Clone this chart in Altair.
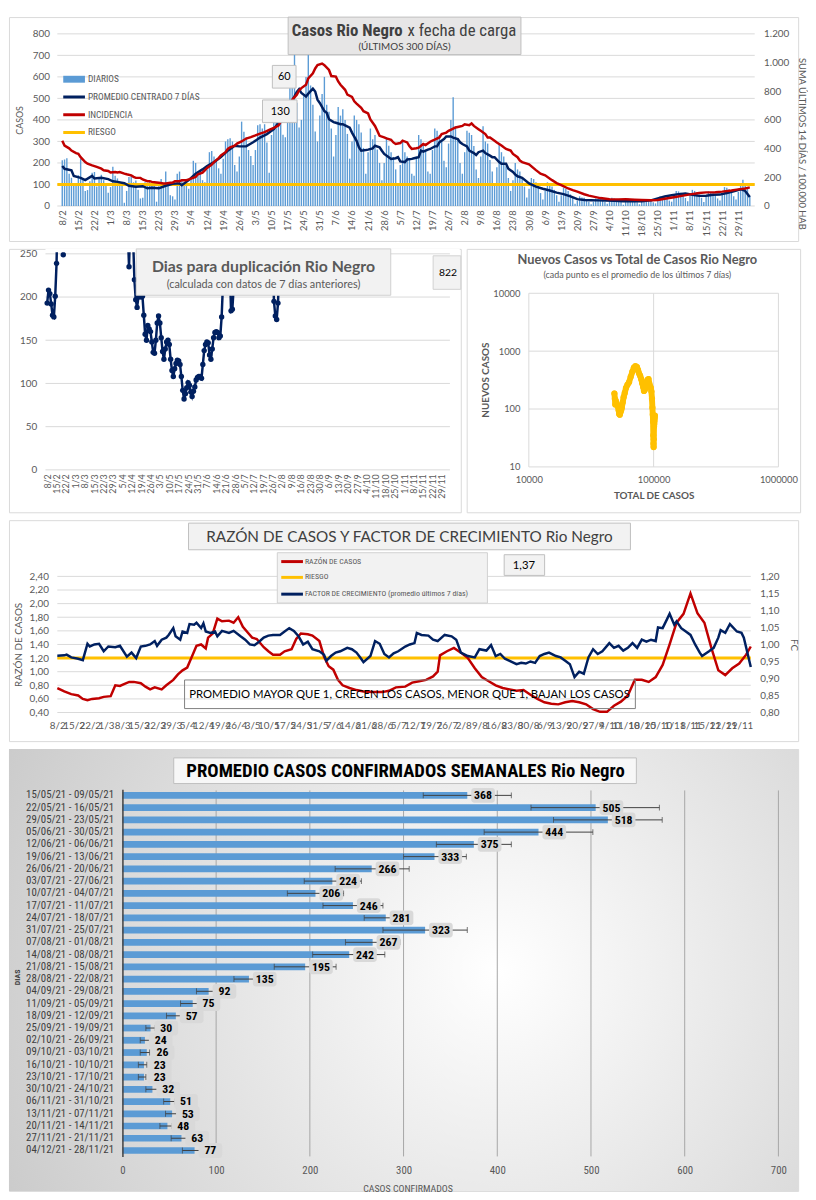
import json
import pandas as pd
import altair as alt

FONT = "Lato, 'Open Sans', sans-serif"
NARROW = "'Liberation Sans Narrow', 'Arial Narrow', 'Roboto Condensed', 'DejaVu Sans Condensed', sans-serif"
GRAY = "#595959"
GRID = "#D9D9D9"
NAVY = "#002060"
RED = "#C00000"
YELLOW = "#FFC000"
BLUE = "#5B9BD5"

# ---------------- data ----------------
tick_labels = ["8/2", "15/2", "22/2", "1/3", "8/3", "15/3", "22/3", "29/3", "5/4", "12/4", "19/4", "26/4",
               "3/5", "10/5", "17/5", "24/5", "31/5", "7/6", "14/6", "21/6", "28/6", "5/7", "12/7", "19/7",
               "26/7", "2/8", "9/8", "16/8", "23/8", "30/8", "6/9", "13/9", "20/9", "27/9", "4/10", "11/10",
               "18/10", "25/10", "1/11", "8/11", "15/11", "22/11", "29/11"]
tick_days = [7 * i for i in range(len(tick_labels))]

# daily cases, 8/2 .. 4/12 (one value per day)
daily = [
    212, 216, 222, 150, 131, 97,
    105, 143, 219, 128, 70, 74, 115,
    155, 158, 90, 130, 145, 120, 100,
    62, 88, 182, 140, 128, 110, 95,
    15, 70, 135, 140, 110, 118, 75,
    35, 38, 110, 95, 120, 108, 96,
    20, 105, 125, 90, 160, 98, 50,
    45, 30, 150, 160, 120, 100, 95,
    80, 130, 210, 200, 160, 150, 120,
    110, 170, 250, 255, 230, 210, 175,
    150, 220, 300, 310, 315, 300, 190,
    160, 230, 392, 345, 320, 260, 232,
    190, 260, 375, 380, 360, 380, 295,
    155, 330, 450, 430, 460, 420, 331,
    320, 420, 550, 640, 760, 480, 365,
    400, 510, 600, 740, 560, 470, 346,
    300, 420, 520, 600, 470, 438, 360,
    230, 330, 460, 420, 450, 400, 335,
    220, 300, 420, 400, 380, 341, 270,
    150, 250, 360, 310, 330, 262, 200,
    120, 200, 320, 280, 250, 228, 170,
    100, 190, 300, 250, 230, 222, 150,
    140, 230, 330, 310, 290, 262, 160,
    150, 260, 360, 350, 330, 307, 210,
    180, 290, 400, 505, 370, 316, 200,
    150, 250, 350, 340, 330, 279, 170,
    130, 230, 370, 300, 290, 214, 160,
    100, 180, 290, 250, 230, 185, 130,
    70, 120, 200, 170, 160, 135, 90,
    40, 80, 130, 125, 110, 99, 60,
    30, 70, 110, 100, 90, 75, 50,
    20, 50, 85, 80, 70, 54, 40,
    10, 25, 45, 40, 38, 32, 20,
    8, 20, 35, 32, 30, 25, 18,
    10, 22, 38, 35, 32, 27, 18,
    6, 18, 35, 30, 30, 25, 17,
    8, 20, 32, 30, 30, 24, 17,
    12, 25, 45, 42, 40, 35, 25,
    20, 45, 70, 68, 62, 55, 37,
    22, 48, 75, 70, 65, 53, 38,
    18, 42, 68, 65, 58, 50, 35,
    25, 55, 88, 85, 78, 65, 45,
    30, 65, 95, 122, 100, 82, 45,
]

# (day, value) promedio centrado 7 dias
avg7 = [(0, 186), (1, 173), (4, 166), (5, 140), (8, 131), (10, 120), (13, 140), (14, 128), (17, 131), (20, 125),
        (22, 115), (24, 112), (27, 106), (29, 94), (32, 89), (35, 92), (37, 82), (39, 85), (42, 82), (45, 94),
        (48, 103), (51, 105), (52, 97), (55, 120), (58, 150), (61, 170), (63, 186), (66, 204), (69, 227), (72, 257),
        (75, 280), (77, 277), (80, 277), (83, 296), (86, 318), (89, 334), (92, 357), (94, 387), (97, 425), (99, 470),
        (101, 510), (102, 530), (103, 543), (104, 525), (106, 509), (107, 522), (109, 545), (110, 532), (111, 494),
        (112, 479), (114, 441), (115, 433), (116, 403), (118, 390), (119, 387), (121, 380), (122, 380), (123, 375),
        (125, 364), (126, 341), (128, 303), (129, 273), (130, 257), (132, 260), (133, 262), (135, 268), (136, 280),
        (138, 273), (139, 257), (140, 242), (142, 227), (143, 219), (145, 222), (146, 227), (147, 207), (149, 204),
        (150, 216), (152, 219), (153, 222), (155, 227), (156, 257), (157, 253), (159, 262), (160, 265), (162, 277),
        (163, 277), (164, 296), (166, 311), (167, 323), (169, 323), (170, 318), (172, 311), (173, 296), (174, 288),
        (176, 277), (177, 257), (179, 246), (180, 237), (181, 250), (183, 257), (184, 246), (186, 234), (187, 227),
        (188, 227), (190, 204), (191, 196), (193, 196), (194, 173), (196, 158), (197, 146), (198, 138), (200, 131),
        (203, 105), (206, 90), (209, 80), (212, 72), (215, 62), (218, 55), (221, 45), (224, 32), (227, 28), (230, 27),
        (233, 26), (236, 25), (240, 24), (244, 22), (248, 22), (252, 22), (256, 26), (259, 35), (262, 44), (265, 50),
        (268, 55), (271, 58), (274, 52), (277, 47), (280, 48), (283, 52), (286, 53), (289, 60), (292, 68), (295, 78),
        (297, 70), (299, 42)]

# (day, value) incidencia: suma ultimos 14 dias / 100.000 hab
incid = [(0, 455), (1, 421), (3, 402), (4, 386), (6, 368), (7, 363), (8, 340), (10, 306), (11, 295), (13, 283),
         (14, 278), (15, 272), (17, 260), (18, 249), (20, 244), (21, 233), (23, 237), (24, 233), (25, 237), (27, 226),
         (28, 221), (30, 214), (31, 203), (32, 196), (34, 196), (35, 185), (37, 173), (38, 173), (39, 168), (41, 164),
         (42, 162), (44, 157), (45, 157), (47, 162), (48, 164), (49, 173), (51, 173), (52, 180), (54, 180), (55, 185),
         (56, 191), (58, 203), (59, 221), (61, 233), (62, 249), (63, 265), (65, 288), (66, 306), (68, 334), (69, 352),
         (71, 375), (72, 398), (73, 409), (75, 421), (76, 435), (78, 450), (80, 470), (82, 480), (84, 492), (86, 505),
         (88, 515), (90, 530), (92, 545), (94, 560), (96, 610), (98, 684), (100, 740), (102, 776), (103, 805),
         (104, 822), (106, 845), (107, 890), (109, 925), (110, 959), (111, 982), (113, 993), (114, 982), (116, 948),
         (117, 906), (119, 902), (120, 868), (121, 845), (123, 810), (124, 776), (126, 760), (127, 730), (128, 714),
         (130, 684), (131, 661), (133, 645), (134, 604), (136, 558), (137, 524), (138, 489), (140, 478), (141, 471),
         (143, 462), (144, 443), (145, 432), (147, 439), (148, 455), (150, 443), (151, 416), (152, 398), (154, 403),
         (155, 407), (157, 432), (158, 425), (160, 448), (161, 455), (162, 462), (164, 478), (165, 501), (167, 512),
         (168, 524), (170, 540), (171, 547), (172, 551), (174, 558), (175, 570), (177, 563), (178, 576), (179, 558),
         (181, 535), (182, 524), (184, 501), (185, 478), (186, 478), (188, 455), (189, 443), (191, 421), (192, 409),
         (193, 398), (195, 386), (196, 363), (198, 340), (199, 317), (200, 306), (203, 290), (206, 250), (208, 225),
         (210, 214), (213, 180), (215, 160), (217, 146), (220, 122), (222, 110), (224, 100), (227, 82), (229, 72),
         (231, 65), (234, 55), (238, 47), (242, 46), (245, 47), (249, 44), (252, 42), (256, 40), (259, 42), (262, 50),
         (266, 61), (270, 72), (273, 81), (277, 90), (280, 95), (284, 96), (287, 100), (291, 108), (294, 116),
         (297, 122), (299, 130)]
riesgo_casos = 100
casos_ticks = [0, 100, 200, 300, 400, 500, 600, 700, 800]
incid_ticks = [0, 200, 400, 600, 800, 1000, 1200]
box_a, box_b = "60", "130"

# dias para duplicacion (day, value); values above 250 fall outside the chart
dupl = [(0, 193), (1, 208), (2, 204), (3, 192), (4, 179), (5, 177), (6, 201), (7, 239), (8, 320), (9, 380),
        (10, 420), (11, 300), (12, 249), (13, 300), (20, 450), (30, 700), (40, 600), (50, 450), (58, 320), (60, 280),
        (61, 235), (62, 290), (63, 300), (64, 270), (65, 220), (66, 197), (67, 188), (68, 200), (69, 205), (70, 200),
        (71, 201), (72, 179), (73, 157), (74, 150), (75, 167), (76, 163), (77, 160), (78, 148), (79, 136), (80, 135),
        (81, 150), (82, 170), (83, 178), (84, 170), (85, 153), (86, 137), (87, 128), (88, 140), (89, 148), (90, 150),
        (91, 145), (92, 128), (93, 115), (94, 108), (95, 117), (96, 123), (97, 127), (98, 126), (99, 122), (100, 108),
        (101, 92), (102, 82), (103, 88), (104, 95), (105, 101), (106, 98), (107, 90), (108, 85), (109, 91), (110, 96),
        (111, 104), (112, 107), (113, 108), (114, 108), (115, 106), (116, 122), (117, 138), (118, 145), (119, 148),
        (120, 147), (121, 133), (122, 128), (123, 140), (124, 153), (125, 159), (126, 160), (127, 159), (128, 153),
        (129, 155), (130, 177), (131, 215), (132, 280), (133, 330), (134, 300), (135, 270), (136, 240), (137, 184),
        (138, 186), (139, 212), (140, 235), (141, 260), (142, 300), (150, 400), (160, 350), (165, 290), (166, 206),
        (167, 262), (168, 245), (169, 195), (170, 178), (171, 174), (172, 193), (173, 240), (174, 290), (175, 350),
        (180, 450)]
dupl_ticks = [0, 50, 100, 150, 200, 250]
dupl_last = "822"

# nuevos casos vs total de casos (total, nuevos)
scatter = [(48500, 185), (48900, 150), (49300, 120), (49700, 140), (50200, 125), (51000, 118), (51800, 110),
           (52500, 95), (53000, 82), (53600, 80), (54200, 88), (54900, 95), (55600, 105), (56500, 130),
           (57500, 160), (58700, 190), (60000, 230), (61700, 262), (63500, 290), (65500, 360), (67500, 440),
           (69500, 520), (71500, 550), (73500, 530), (75000, 470), (76500, 410), (78000, 375), (79500, 330),
           (81000, 280), (82500, 240), (83700, 205), (85000, 215), (86500, 250), (88000, 290), (89500, 320),
           (91000, 330), (92200, 280), (93500, 250), (94800, 235), (96000, 200), (97000, 150), (97800, 105),
           (98500, 80), (99000, 60), (99400, 35), (99700, 25), (100000, 22), (100300, 30), (100700, 50),
           (101100, 55), (101500, 62), (102000, 70), (102300, 77)]

# razon de casos (day, value) and factor de crecimiento (day, value)
razon = [(0, 0.76), (3, 0.71), (6, 0.67), (9, 0.65), (11, 0.60), (13, 0.58), (15, 0.60), (18, 0.61), (20, 0.63),
         (23, 0.64), (24, 0.72), (25, 0.80), (27, 0.79), (29, 0.82), (31, 0.85), (33, 0.85), (36, 0.83), (38, 0.78),
         (40, 0.74), (42, 0.77), (45, 0.74), (47, 0.80), (50, 0.88), (52, 0.96), (54, 1.02), (56, 1.06), (58, 1.22),
         (60, 1.38), (62, 1.40), (64, 1.34), (65, 1.50), (67, 1.56), (69, 1.78), (71, 1.74), (74, 1.75), (76, 1.72),
         (78, 1.80), (80, 1.66), (82, 1.58), (84, 1.50), (86, 1.48), (89, 1.36), (91, 1.30), (93, 1.25), (96, 1.25),
         (98, 1.30), (101, 1.33), (103, 1.48), (105, 1.56), (108, 1.55), (110, 1.53), (113, 1.45), (115, 1.22),
         (117, 1.08), (119, 1.03), (121, 0.88), (123, 0.80), (126, 0.76), (129, 0.73), (132, 0.71), (136, 0.70),
         (140, 0.70), (143, 0.72), (146, 0.77), (150, 0.78), (153, 0.84), (156, 0.86), (159, 0.88), (162, 0.93),
         (164, 1.00), (165, 1.24), (168, 1.30), (171, 1.35), (174, 1.28), (177, 1.20), (180, 1.05), (183, 0.92),
         (186, 0.86), (189, 0.80), (192, 0.76), (195, 0.74), (198, 0.72), (201, 0.73), (204, 0.66), (207, 0.60),
         (210, 0.55), (213, 0.53), (216, 0.52), (219, 0.55), (222, 0.57), (225, 0.55), (228, 0.52), (231, 0.45),
         (234, 0.41), (237, 0.41), (240, 0.50), (243, 0.56), (246, 0.65), (249, 0.88), (252, 0.88), (255, 0.85),
         (258, 0.92), (261, 1.10), (264, 1.40), (267, 1.72), (270, 1.85), (273, 2.15), (276, 1.86), (279, 1.72),
         (282, 1.35), (285, 1.02), (288, 0.95), (291, 1.05), (294, 1.12), (297, 1.25), (299, 1.37)]
factor = [(0, 0.967), (3, 0.968), (4, 0.970), (6, 0.962), (9, 0.958), (11, 0.954), (13, 1.002), (14, 0.994),
          (16, 1.000), (18, 1.002), (20, 0.980), (22, 0.994), (25, 0.992), (27, 0.996), (30, 0.964), (32, 0.976),
          (34, 0.960), (36, 0.994), (38, 0.996), (40, 1.000), (42, 1.010), (43, 0.996), (45, 1.014), (47, 1.020),
          (48, 1.028), (50, 1.048), (51, 1.024), (53, 1.014), (54, 1.038), (56, 1.034), (57, 1.060), (59, 1.058),
          (60, 1.064), (62, 1.048), (63, 1.062), (64, 1.038), (66, 1.034), (68, 1.038), (69, 1.024), (71, 1.040),
          (74, 1.034), (76, 1.040), (79, 1.024), (81, 1.014), (83, 1.000), (85, 0.998), (87, 1.008), (89, 1.020),
          (91, 1.026), (93, 1.028), (96, 1.028), (98, 1.038), (100, 1.048), (102, 1.040), (104, 1.024), (106, 1.000),
          (108, 1.008), (110, 0.986), (113, 0.980), (115, 0.970), (116, 0.952), (118, 0.966), (120, 0.976),
          (122, 0.980), (125, 0.990), (127, 0.986), (129, 0.976), (131, 0.958), (132, 0.948), (135, 0.966),
          (137, 1.010), (139, 1.002), (141, 0.972), (143, 0.962), (145, 0.974), (147, 0.980), (150, 0.994),
          (152, 1.000), (154, 1.004), (155, 1.034), (157, 1.028), (160, 1.026), (162, 1.014), (164, 1.010),
          (167, 1.028), (170, 1.024), (172, 1.014), (174, 0.976), (177, 0.966), (180, 0.962), (182, 0.986),
          (185, 0.982), (187, 0.998), (189, 0.966), (191, 0.972), (193, 0.958), (195, 0.952), (198, 0.942),
          (200, 0.946), (202, 0.944), (204, 0.950), (206, 0.946), (208, 0.966), (210, 0.972), (212, 0.976),
          (215, 0.966), (217, 0.962), (219, 0.952), (221, 0.942), (223, 0.904), (225, 0.920), (227, 0.914),
          (229, 0.962), (231, 0.986), (233, 0.972), (235, 0.980), (238, 1.004), (240, 0.990), (242, 0.996),
          (244, 0.982), (246, 0.990), (248, 1.004), (250, 0.990), (252, 1.014), (254, 1.008), (256, 1.014),
          (258, 1.010), (259, 1.050), (261, 1.048), (263, 1.076), (264, 1.090), (266, 1.058), (267, 1.068),
          (269, 1.048), (271, 1.038), (273, 1.028), (275, 1.000), (277, 0.976), (278, 0.966), (281, 0.980),
          (283, 0.990), (285, 1.020), (286, 1.042), (288, 1.034), (290, 1.060), (293, 1.038), (295, 1.034),
          (296, 1.020), (299, 0.934)]
riesgo_razon = 1.2
razon_ticks = [0.4, 0.6, 0.8, 1.0, 1.2, 1.4, 1.6, 1.8, 2.0, 2.2, 2.4]
factor_ticks = [0.80, 0.85, 0.90, 0.95, 1.00, 1.05, 1.10, 1.15, 1.20]
razon_last = "1,37"

# promedio casos confirmados semanales
week_labels = ["15/05/21 - 09/05/21", "22/05/21 - 16/05/21", "29/05/21 - 23/05/21", "05/06/21 - 30/05/21",
               "12/06/21 - 06/06/21", "19/06/21 - 13/06/21", "26/06/21 - 20/06/21", "03/07/21 - 27/06/21",
               "10/07/21 - 04/07/21", "17/07/21 - 11/07/21", "24/07/21 - 18/07/21", "31/07/21 - 25/07/21",
               "07/08/21 - 01/08/21", "14/08/21 - 08/08/21", "21/08/21 - 15/08/21", "28/08/21 - 22/08/21",
               "04/09/21 - 29/08/21", "11/09/21 - 05/09/21", "18/09/21 - 12/09/21", "25/09/21 - 19/09/21",
               "02/10/21 - 26/09/21", "09/10/21 - 03/10/21", "16/10/21 - 10/10/21", "23/10/21 - 17/10/21",
               "30/10/21 - 24/10/21", "06/11/21 - 31/10/21", "13/11/21 - 07/11/21", "20/11/21 - 14/11/21",
               "27/11/21 - 21/11/21", "04/12/21 - 28/11/21"]
week_avg = [368, 505, 518, 444, 375, 333, 266, 224, 206, 246, 281, 323, 267, 242, 195, 135, 92, 75, 57, 30,
            24, 26, 23, 23, 32, 51, 53, 48, 63, 77]
week_lo = [321, 436, 460, 386, 335, 300, 227, 194, 176, 214, 258, 278, 238, 203, 162, 119, 79, 62, 47, 25,
           19, 19, 17, 17, 25, 44, 46, 40, 52, 64]
week_hi = [415, 573, 576, 502, 415, 367, 306, 255, 236, 278, 300, 368, 296, 280, 228, 150, 105, 85, 66, 35,
           29, 29, 26, 25, 38, 56, 60, 53, 70, 84]
week_ticks = [0, 100, 200, 300, 400, 500, 600, 700]

# ---------------- helpers ----------------
ONE = pd.DataFrame({"k": [0]})


def ax(**kw):
    base = dict(ticks=False, tickSize=0, domain=False, grid=False, labelColor=GRAY, labelFont=FONT,
                labelFontSize=10, titleColor=GRAY, titleFont=FONT, titleFontWeight="normal",
                labelOverlap=False, labelFlush=False)
    base.update(kw)
    return alt.Axis(**base)


def rect(x1, y1, x2, y2, fill="#F2F2F2", stroke="#BFBFBF", sw=1, r=0, fo=1.0):
    return alt.Chart(ONE).mark_rect(fill=fill, stroke=stroke, strokeWidth=sw, cornerRadius=r,
                                    fillOpacity=fo).encode(
        x=alt.value(x1), x2=alt.value(x2), y=alt.value(y1), y2=alt.value(y2))


def text(x, y, s, size=10, color=GRAY, weight="normal", align="center", font=FONT, angle=0):
    return alt.Chart(pd.DataFrame({"t": [s]})).mark_text(
        align=align, baseline="middle", fontSize=size, fontWeight=weight, color=color, font=font,
        angle=angle).encode(x=alt.value(x), y=alt.value(y), text="t:N")


def swatch(x1, x2, y, color, w):
    return alt.Chart(ONE).mark_rule(color=color, strokeWidth=w).encode(
        x=alt.value(x1), x2=alt.value(x2), y=alt.value(y))


def lbl_expr(labels):
    return json.dumps(labels) + "[round(datum.value/7)]"


COMMA2 = "replace(format(datum.value, '.2f'), '.', ',')"

# ---------------- panel 1: casos x fecha de carga ----------------
W1, H1 = 800, 227
X1 = alt.Scale(domain=[0, 299], range=[49, 756])
Y1 = alt.Scale(domain=[0, 800], range=[191.5, 17])
Y1R = alt.Scale(domain=[0, 1200], range=[191.5, 17])
ax1x = ax(values=tick_days, labelExpr=lbl_expr(tick_labels), labelAngle=-90, labelPadding=4,
          offset=191.5 - H1, title=None, labelFontSize=9.5)
ax1y = ax(values=casos_ticks, offset=-49, labelPadding=8, title="CASOS", titleFontSize=9, titlePadding=8)
ax1r = ax(values=incid_ticks, orient="right", offset=-44, labelPadding=9,
          labelExpr="replace(format(datum.value, ',d'), ',', '.')",
          title="SUMA  ÚLTIMOS 14 DÍAS / 100.000 HAB", titleFontSize=9.5, titleAngle=90, titlePadding=8,
          titleY=128)
xe1 = alt.X("d:Q", scale=X1, axis=ax1x)

df_daily = pd.DataFrame({"d": list(range(len(daily))), "v": daily})
df_avg = pd.DataFrame(avg7, columns=["d", "v"])
df_inc = pd.DataFrame(incid, columns=["d", "v"])

grid1 = alt.Chart(pd.DataFrame({"g": casos_ticks})).mark_rule(color=GRID).encode(
    y=alt.Y("g:Q", scale=Y1, axis=ax1y), x=alt.value(49), x2=alt.value(756))
bars1 = alt.Chart(df_daily).mark_bar(width=1.4, color=BLUE, orient="vertical").encode(
    x=xe1, y=alt.Y("v:Q", scale=Y1, axis=ax1y))
risk1 = alt.Chart(pd.DataFrame({"r": [riesgo_casos]})).mark_rule(color=YELLOW, strokeWidth=3).encode(
    y=alt.Y("r:Q", scale=Y1, axis=ax1y), x=alt.value(49), x2=alt.value(756))
avg1 = alt.Chart(df_avg).mark_line(color=NAVY, strokeWidth=2.5).encode(
    x=xe1, y=alt.Y("v:Q", scale=Y1, axis=ax1y))
left1 = alt.layer(grid1, bars1, risk1, avg1)
inc1 = alt.Chart(df_inc).mark_line(color=RED, strokeWidth=2.5).encode(
    x=xe1, y=alt.Y("v:Q", scale=Y1R, axis=ax1r))

ann1 = [
    rect(283, 0, 519, 38, fill="#E7E6E6", stroke="#BFBFBF"),
    text(399, 14, "Casos Rio Negro", size=17, color="#404040", weight="bold", align="right", font=NARROW),
    text(404, 14, "x fecha de carga", size=17, color="#404040", align="left", font=NARROW),
    text(401, 30, "(ÚLTIMOS 300 DÍAS)", size=10, color="#404040"),
    rect(267, 49, 291, 72, fill="#F2F2F2", stroke="#BFBFBF"),
    text(279, 61, box_a, size=11, color="#000000"),
    rect(257, 84, 292, 107, fill="#F2F2F2", stroke="#BFBFBF"),
    text(275, 96, box_b, size=11, color="#000000"),
    swatch(55, 77, 63, BLUE, 7), text(80, 63, "DIARIOS", size=9.5, align="left", font=NARROW),
    swatch(55, 77, 81, NAVY, 3), text(80, 81, "PROMEDIO CENTRADO 7 DÍAS", size=9.5, align="left", font=NARROW),
    swatch(55, 77, 99, RED, 3), text(80, 99, "INCIDENCIA", size=9.5, align="left", font=NARROW),
    swatch(55, 77, 117, YELLOW, 3), text(80, 117, "RIESGO", size=9.5, align="left", font=NARROW),
]
p1 = alt.layer(left1, inc1, *ann1).resolve_scale(y="independent").properties(width=W1, height=H1)

# ---------------- panel 2a: dias para duplicacion ----------------
W2, H2 = 458, 267
X2 = alt.Scale(domain=[0, 294], range=[38.7, 438.7])
Y2 = alt.Scale(domain=[0, 250], range=[224, 5])
ax2x = ax(values=tick_days, labelExpr=lbl_expr(tick_labels), labelAngle=-90, labelPadding=4,
          offset=224 - H2, title=None, labelFontSize=9)
ax2y = ax(values=dupl_ticks, offset=-37, labelPadding=9, title=None, zindex=1)
df_dup = pd.DataFrame(dupl, columns=["d", "v"])
grid2 = alt.Chart(pd.DataFrame({"g": dupl_ticks})).mark_rule(color=GRID).encode(
    y=alt.Y("g:Q", scale=Y2, axis=ax2y), x=alt.value(37), x2=alt.value(447))
line2 = alt.Chart(df_dup).mark_line(color=NAVY, strokeWidth=2.5, clip=True).encode(
    x=alt.X("d:Q", scale=X2, axis=ax2x), y=alt.Y("v:Q", scale=Y2, axis=ax2y))
pts2 = alt.Chart(df_dup).mark_circle(color=NAVY, size=30, opacity=1, clip=True).encode(
    x=alt.X("d:Q", scale=X2, axis=ax2x), y=alt.Y("v:Q", scale=Y2, axis=ax2y))
ann2 = [
    rect(37, 0, 457, 3.5, fill="#FFFFFF", stroke="#FFFFFF", sw=0),
    rect(129, 0, 387, 47, fill="#F2F2F2", stroke="#D0D0D0"),
    text(258, 18, "Dias para duplicación Rio Negro", size=16, weight="bold"),
    text(258, 37, "(calculada con datos de 7 días anteriores)", size=11),
    rect(430, 7, 458, 41, fill="#F2F2F2", stroke="#D0D0D0"),
    text(445, 24, dupl_last, size=10.5, color="#000000"),
]
p2a = alt.layer(grid2, line2, pts2, *ann2).properties(width=W2, height=H2)

# ---------------- panel 2b: nuevos casos vs total ----------------
W3, H3 = 338, 267
X3 = alt.Scale(type="log", domain=[10000, 1000000], range=[63, 316])
Y3 = alt.Scale(type="log", domain=[10, 10000], range=[221, 45])
ax3x = ax(values=[10000, 100000, 1000000], format="d", offset=221 - H3, labelPadding=8, labelFontSize=9.5,
          title=None)
ax3y = ax(values=[10, 100, 1000, 10000], format="d", offset=-63, labelPadding=9, labelFontSize=9.5, title=None)
df_sc = pd.DataFrame(scatter, columns=["t", "n"])
df_sc["i"] = range(len(df_sc))
gv3 = alt.Chart(pd.DataFrame({"g": [10000, 100000, 1000000]})).mark_rule(color=GRID).encode(
    x=alt.X("g:Q", scale=X3, axis=ax3x), y=alt.value(45), y2=alt.value(221))
gh3 = alt.Chart(pd.DataFrame({"g": [10, 100, 1000, 10000]})).mark_rule(color=GRID).encode(
    y=alt.Y("g:Q", scale=Y3, axis=ax3y), x=alt.value(63), x2=alt.value(316))
ln3 = alt.Chart(df_sc).mark_line(color=YELLOW, strokeWidth=6, strokeJoin="round", strokeCap="round").encode(
    x=alt.X("t:Q", scale=X3, axis=ax3x), y=alt.Y("n:Q", scale=Y3, axis=ax3y), order="i:Q")
pt3 = alt.Chart(df_sc).mark_circle(color=YELLOW, size=40, opacity=1).encode(
    x=alt.X("t:Q", scale=X3, axis=ax3x), y=alt.Y("n:Q", scale=Y3, axis=ax3y))
ann3 = [
    text(173, 11, "Nuevos Casos vs Total de Casos Rio Negro", size=13, weight="bold"),
    text(173, 26, "(cada punto es el promedio de los últimos 7 días)", size=9),
    text(20, 133, "NUEVOS  CASOS", size=10, weight="bold", angle=270),
    text(190, 251, "TOTAL DE CASOS", size=10, weight="bold"),
]
p2b = alt.layer(gv3, gh3, ln3, pt3, *ann3).properties(width=W3, height=H3)

# ---------------- panel 3: razon de casos y factor de crecimiento ----------------
W4, H4 = 800, 224
X4 = alt.Scale(domain=[0, 299], range=[49, 752])
Y4 = alt.Scale(domain=[0.4, 2.4], range=[195, 57])
Y4R = alt.Scale(domain=[0.8, 1.2], range=[195, 57])
ax4x = ax(values=tick_days, labelExpr=lbl_expr(tick_labels), labelAngle=0, labelPadding=8,
          offset=195 - H4, title=None, labelFontSize=10)
ax4y = ax(values=razon_ticks, offset=-49, labelPadding=9, labelExpr=COMMA2, title="RAZÓN  DE CASOS",
          titleFontSize=10, titlePadding=6)
ax4r = ax(values=factor_ticks, orient="right", offset=-48, labelPadding=9, labelExpr=COMMA2, title="FC",
          titleFontSize=10, titleAngle=90, titlePadding=10)
xe4 = alt.X("d:Q", scale=X4, axis=ax4x)
grid4 = alt.Chart(pd.DataFrame({"g": razon_ticks})).mark_rule(color=GRID).encode(
    y=alt.Y("g:Q", scale=Y4, axis=ax4y), x=alt.value(49), x2=alt.value(752))
risk4 = alt.Chart(pd.DataFrame({"r": [riesgo_razon]})).mark_rule(color=YELLOW, strokeWidth=3).encode(
    y=alt.Y("r:Q", scale=Y4, axis=ax4y), x=alt.value(49), x2=alt.value(752))
red4 = alt.Chart(pd.DataFrame(razon, columns=["d", "v"])).mark_line(color=RED, strokeWidth=2.5).encode(
    x=xe4, y=alt.Y("v:Q", scale=Y4, axis=ax4y))
left4 = alt.layer(grid4, risk4, red4)
blue4 = alt.Chart(pd.DataFrame(factor, columns=["d", "v"])).mark_line(color=NAVY, strokeWidth=2.5).encode(
    x=xe4, y=alt.Y("v:Q", scale=Y4R, axis=ax4r))
ann4 = [
    rect(182, 3, 630, 30, fill="#F2F2F2", stroke="#BFBFBF"),
    text(406, 17, "RAZÓN DE CASOS Y FACTOR DE CRECIMIENTO Rio Negro", size=15.5, color="#404040"),
    rect(272, 33, 485, 84, fill="#F2F2F2", stroke="#D0D0D0"),
    swatch(276, 298, 42, RED, 3), text(300, 42, "RAZÓN DE CASOS", size=8, align="left", font=NARROW),
    swatch(276, 298, 58, YELLOW, 3), text(300, 58, "RIESGO", size=8, align="left", font=NARROW),
    swatch(276, 298, 75, NAVY, 3),
    text(300, 75, "FACTOR DE CRECIMIENTO (promedio últimos 7 días)", size=8, align="left", font=NARROW),
    rect(502, 35, 543, 56, fill="#F2F2F2", stroke="#BFBFBF"),
    text(522, 46, razon_last, size=11.5, color="#000000"),
    rect(178, 162, 635, 191, fill="#FFFFFF", stroke="#7F7F7F", fo=0.0),
    text(406, 177, "PROMEDIO MAYOR QUE 1, CRECEN LOS CASOS, MENOR QUE 1, BAJAN LOS CASOS", size=11.5,
         color="#000000"),
]
p3 = alt.layer(left4, blue4, *ann4).resolve_scale(y="independent").properties(width=W4, height=H4)

# ---------------- panel 4: promedio casos confirmados semanales ----------------
W5, H5 = 800, 448
X5 = alt.Scale(domain=[0, 700], range=[115, 780])
Y5 = alt.Scale(domain=week_labels, range=[40.8, 413.2], paddingInner=0.45, paddingOuter=0.225)
ax5x = ax(values=week_ticks, offset=413.2 - H5, labelPadding=8, labelFont=NARROW, labelFontSize=11,
          title="CASOS CONFIRMADOS", titleFont=NARROW, titleFontSize=10, titleX=404, titleY=27, zindex=1)
ax5y = ax(offset=-115, labelPadding=9, labelFont=NARROW, labelFontSize=11, labelColor="#404040",
          domain=True, domainColor="#404040", domainWidth=1.5, title="DIAS", titleFont=NARROW,
          titleFontSize=8, titleFontWeight="bold", titleColor="#404040", titleX=-102, titleY=231, zindex=1)
df5 = pd.DataFrame({"w": week_labels, "v": week_avg, "lo": week_lo, "hi": week_hi})
ye5 = alt.Y("w:N", scale=Y5, axis=ax5y, sort=None)

bg5 = alt.Chart(ONE).mark_rect(fill=alt.RadialGradient(
    gradient="radial",
    stops=[alt.GradientStop(color="#FFFFFF", offset=0), alt.GradientStop(color="#C4C4C4", offset=1)],
    x1=0.62, y1=0.5, r1=0, x2=0.62, y2=0.5, r2=0.78)).encode(
    x=alt.value(0), x2=alt.value(W5), y=alt.value(0), y2=alt.value(H5))
grid5 = alt.Chart(pd.DataFrame({"g": week_ticks[1:]})).mark_rule(color="#A6A6A6").encode(
    x=alt.X("g:Q", scale=X5, axis=ax5x), y=alt.value(42), y2=alt.value(413))
bars5 = alt.Chart(df5).mark_bar(color=BLUE).encode(x=alt.X("v:Q", scale=X5, axis=ax5x), y=ye5)
err5 = alt.Chart(df5).mark_rule(color="#404040", strokeWidth=1).encode(
    x=alt.X("lo:Q", scale=X5, axis=ax5x), x2=alt.X2("hi"), y=ye5)
caplo5 = alt.Chart(df5).mark_tick(color="#404040", thickness=1, size=6).encode(
    x=alt.X("lo:Q", scale=X5, axis=ax5x), y=ye5)
caphi5 = alt.Chart(df5).mark_tick(color="#404040", thickness=1, size=6).encode(
    x=alt.X("hi:Q", scale=X5, axis=ax5x), y=ye5)
lbox5 = alt.Chart(df5).mark_bar(color="#D9D9D9", height=15, cornerRadius=3, xOffset=4, x2Offset=28).encode(
    x=alt.X("v:Q", scale=X5, axis=ax5x), x2=alt.X2("v"), y=ye5)
ltxt5 = alt.Chart(df5).mark_text(dx=16, font=NARROW, fontSize=12, fontWeight="bold", color="#000000").encode(
    x=alt.X("v:Q", scale=X5, axis=ax5x), y=ye5, text=alt.Text("v:Q"))
ann5 = [
    rect(167, 9, 636, 35, fill="#F7F7F7", stroke="#BFBFBF"),
    text(402, 22, "PROMEDIO CASOS CONFIRMADOS SEMANALES Rio Negro", size=19, color="#000000",
         weight="bold", font=NARROW),
]
p4 = alt.layer(bg5, grid5, bars5, err5, caplo5, caphi5, lbox5, ltxt5, *ann5).properties(width=W5, height=H5)

row2 = alt.hconcat(p2a, p2b, spacing=4)
chart = alt.vconcat(p1, row2, p3, p4, spacing=6, padding=0).configure(font=FONT).configure_view(
    stroke="#D9D9D9", strokeWidth=1)

chart.save("out.html", embed_options={"renderer": "svg", "actions": False})
